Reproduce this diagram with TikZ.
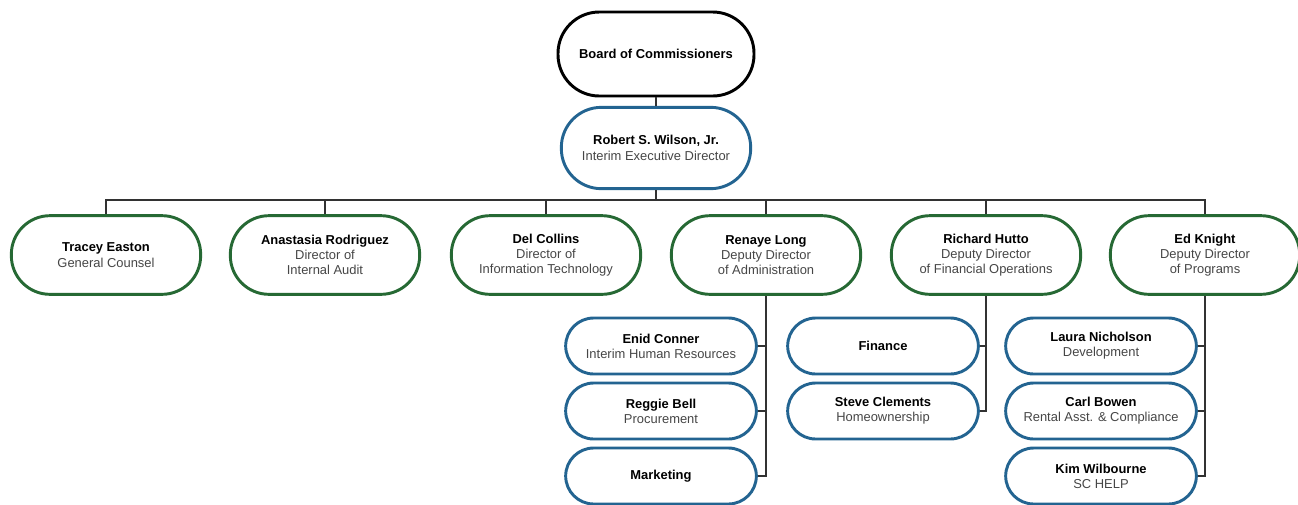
\documentclass[tikz,border=0pt]{standalone}
\usepackage{fontspec}
\setmainfont{Liberation Sans}
\definecolor{orgblue}{RGB}{35,100,145}
\definecolor{orggreen}{RGB}{38,105,52}
\definecolor{subgray}{RGB}{70,70,70}
\definecolor{linegray}{RGB}{50,50,50}
\begin{document}
\begin{tikzpicture}[x=0.75pt,y=-0.75pt,
  pill/.style={draw, line width=2.2pt, fill=white, align=center, inner sep=0pt, font=\fontsize{9.7}{11.4}\selectfont},
  boardbox/.style={pill, draw=black, minimum width=147pt, minimum height=63pt, rounded corners=31pt},
  execbox/.style={pill, draw=orgblue, minimum width=142pt, minimum height=61pt, rounded corners=30pt},
  greenbox/.style={pill, draw=orggreen, minimum width=142pt, minimum height=59pt, rounded corners=29pt},
  bluebox/.style={pill, draw=orgblue, minimum width=143pt, minimum height=42pt, rounded corners=21pt},
  conn/.style={draw=linegray, line width=1pt}]
\useasboundingbox (0,0) rectangle (1298,504);
\newcommand{\sub}[1]{{\color{subgray}#1}}

\node[boardbox] (board) at (656,54) {\textbf{Board of Commissioners}};
\node[execbox] (exec) at (656,148) {\textbf{Robert S. Wilson, Jr.}\\[1pt]\sub{Interim Executive Director}};

\node[greenbox] (tracey) at (106,255) {\textbf{Tracey Easton}\\[1pt]\sub{General Counsel}};
\node[greenbox] (anast) at (325,255) {\textbf{Anastasia Rodriguez}\\\sub{Director of}\\\sub{Internal Audit}};
\node[greenbox] (del) at (546,255) {\textbf{Del Collins}\\\sub{Director of}\\\sub{Information Technology}};
\node[greenbox] (renaye) at (766,255) {\textbf{Renaye Long}\\\sub{Deputy Director}\\\sub{of Administration}};
\node[greenbox] (richard) at (986,255) {\textbf{Richard Hutto}\\\sub{Deputy Director}\\\sub{of Financial Operations}};
\node[greenbox] (ed) at (1205,255) {\textbf{Ed Knight}\\\sub{Deputy Director}\\\sub{of Programs}};

\node[bluebox] (enid) at (661,346) {\textbf{Enid Conner}\\\sub{Interim Human Resources}};
\node[bluebox] (reggie) at (661,411) {\textbf{Reggie Bell}\\\sub{Procurement}};
\node[bluebox] (market) at (661,476) {\textbf{Marketing}};
\node[bluebox] (finance) at (883,346) {\textbf{Finance}};
\node[bluebox] (steve) at (883,411) {\textbf{Steve Clements}\\\sub{Homeownership}};
\node[bluebox] (laura) at (1101,346) {\textbf{Laura Nicholson}\\\sub{Development}};
\node[bluebox] (carl) at (1101,411) {\textbf{Carl Bowen}\\\sub{Rental Asst. \& Compliance}};
\node[bluebox] (kim) at (1101,476) {\textbf{Kim Wilbourne}\\\sub{SC HELP}};

\coordinate (bus) at (656,200);
\draw[conn] (board.south) -- (exec.north);
\draw[conn] (exec.south) -- (bus);
\foreach \n in {tracey,anast,del,renaye,richard,ed}
  \draw[conn] (bus) -| (\n.north);
\draw[conn] (renaye.south) |- (market.east);
\draw[conn] (renaye.south |- enid.east) -- (enid.east);
\draw[conn] (renaye.south |- reggie.east) -- (reggie.east);
\draw[conn] (richard.south) |- (steve.east);
\draw[conn] (richard.south |- finance.east) -- (finance.east);
\draw[conn] (ed.south) |- (kim.east);
\draw[conn] (ed.south |- laura.east) -- (laura.east);
\draw[conn] (ed.south |- carl.east) -- (carl.east);
\end{tikzpicture}
\end{document}
